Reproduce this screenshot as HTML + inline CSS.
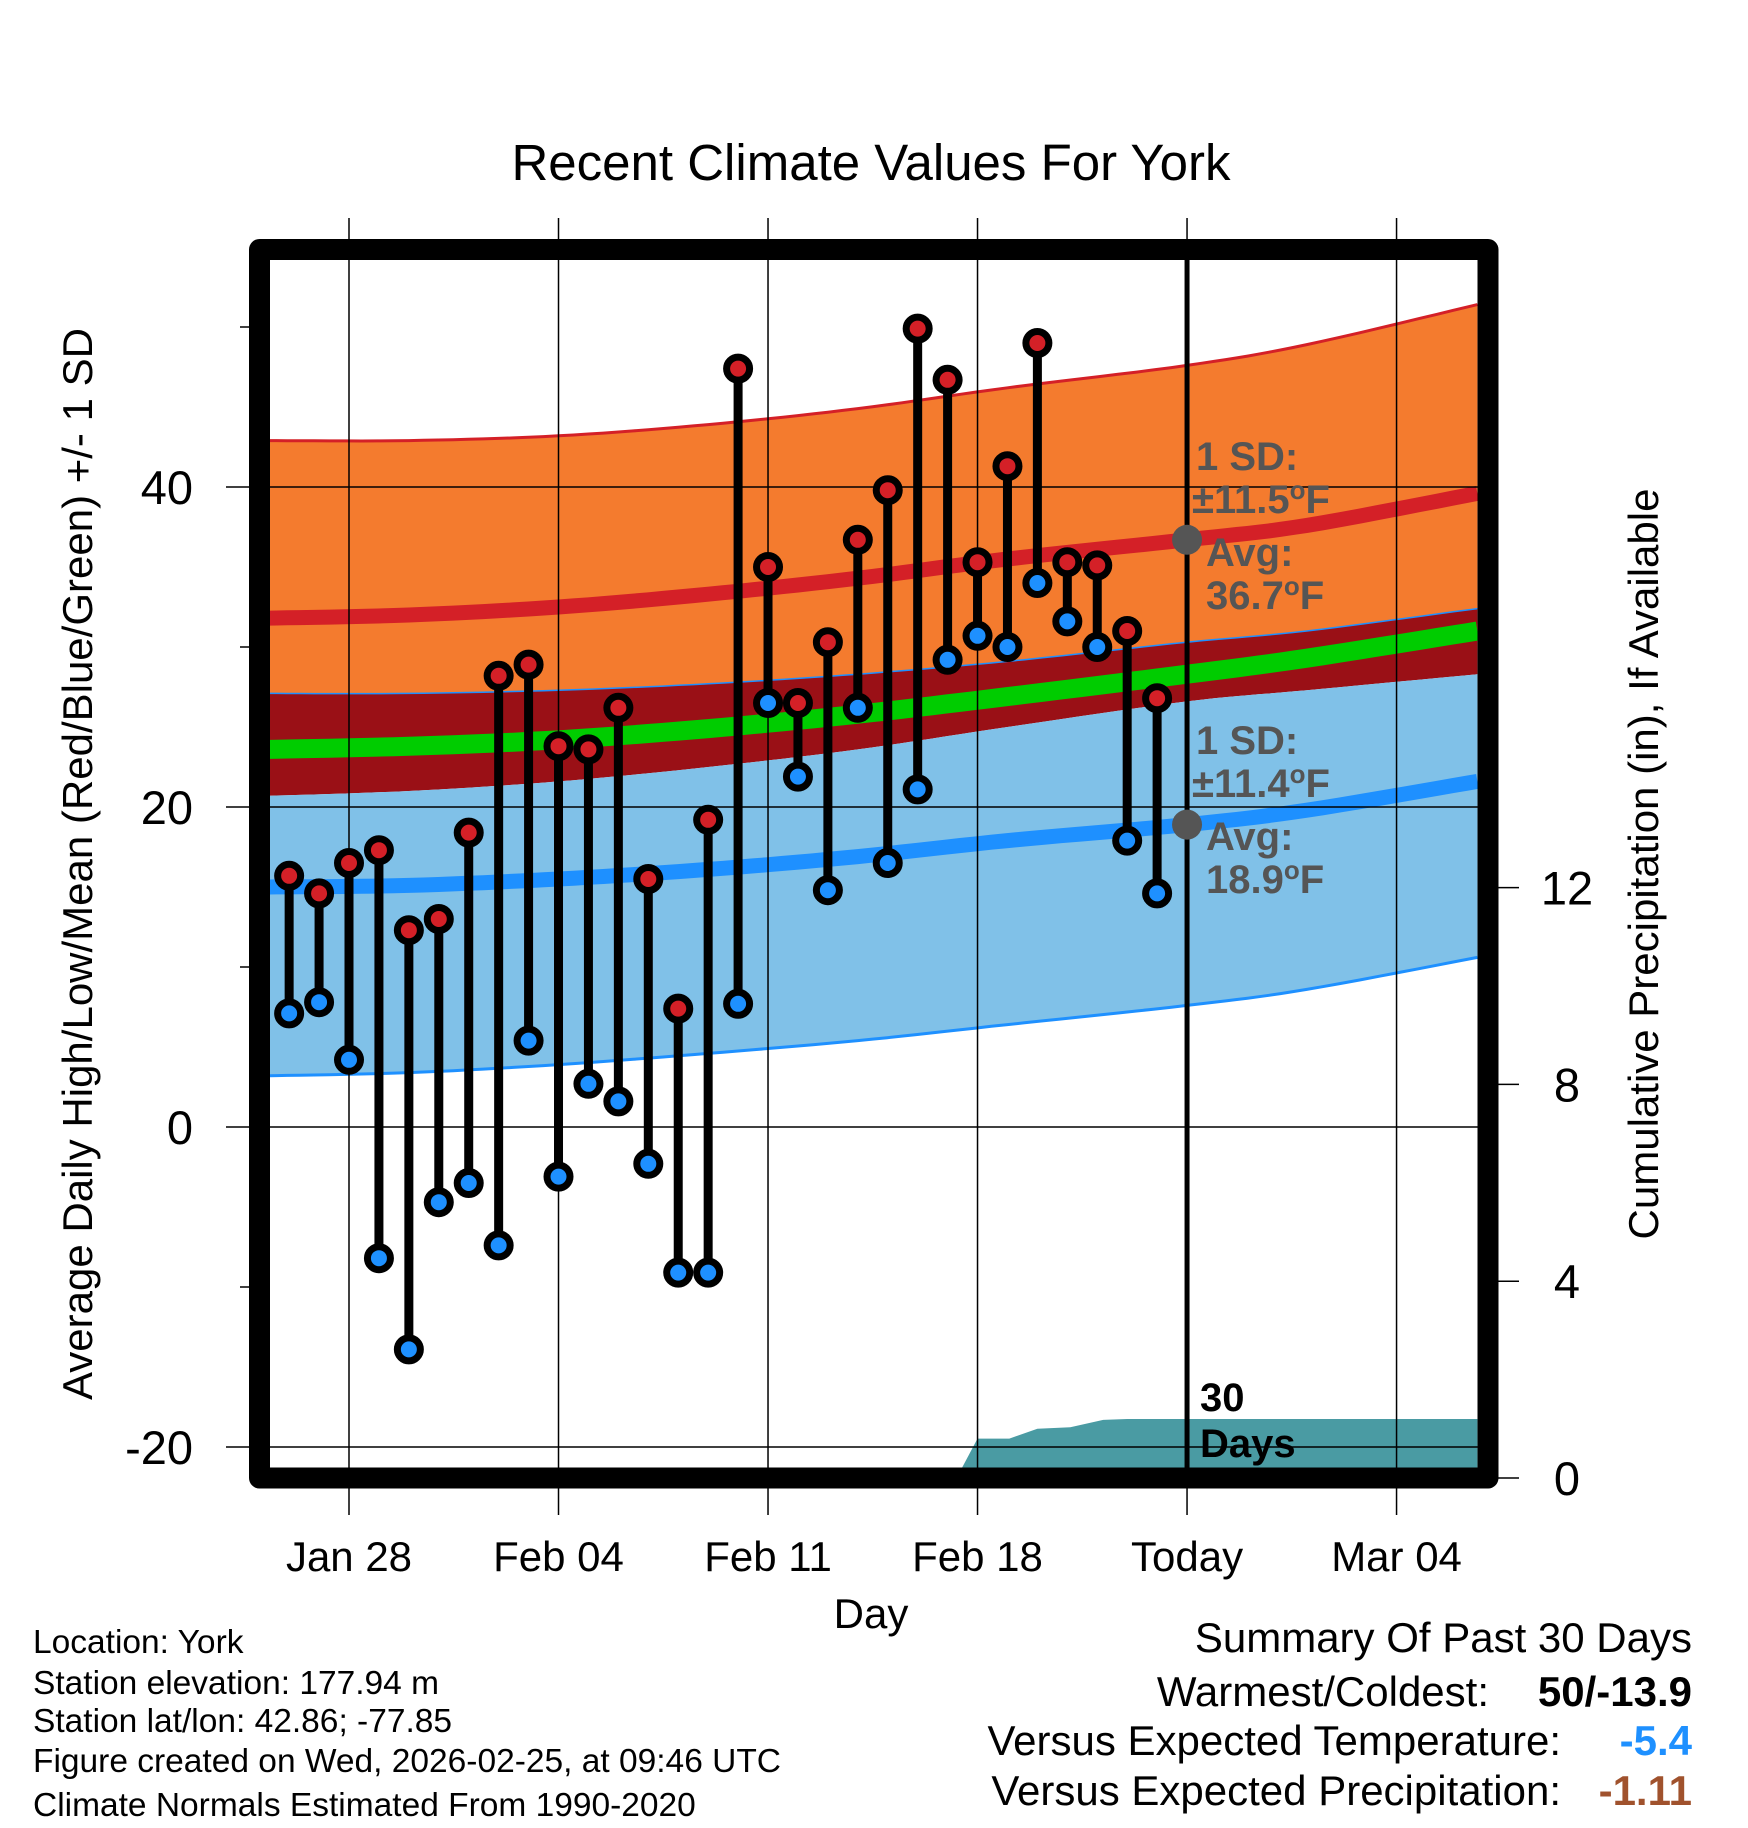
<!DOCTYPE html>
<html><head><meta charset="utf-8">
<style>
html,body{margin:0;padding:0;background:#fff;}
svg{display:block;font-family:"Liberation Sans",Arial,sans-serif;}
</style></head>
<body>
<svg id="chart" width="1748" height="1828" viewBox="0 0 1748 1828" xmlns="http://www.w3.org/2000/svg">
<text x="871" y="180" font-size="51" text-anchor="middle">Recent Climate Values For York</text>
<g id="plot"></g>
<text transform="translate(92,864) rotate(-90)" font-size="42" text-anchor="middle">Average Daily High/Low/Mean (Red/Blue/Green) +/- 1 SD</text>
<text transform="translate(1658,864) rotate(-90)" font-size="42" text-anchor="middle">Cumulative Precipitation (in), If Available</text>
<text x="871" y="1628" font-size="42" text-anchor="middle">Day</text>
<g font-size="33.5">
<text x="33" y="1653">Location: York</text>
<text x="33" y="1694">Station elevation: 177.94 m</text>
<text x="33" y="1732">Station lat/lon: 42.86; -77.85</text>
<text x="33" y="1772">Figure created on Wed, 2026-02-25, at 09:46 UTC</text>
<text x="33" y="1816">Climate Normals Estimated From 1990-2020</text>
</g>
<g font-size="42">
<text x="1692" y="1652" text-anchor="end">Summary Of Past 30 Days</text>
<text x="1489" y="1706" text-anchor="end">Warmest/Coldest:</text>
<text x="1692" y="1706" text-anchor="end" font-weight="bold">50/-13.9</text>
<text x="1561" y="1755" text-anchor="end">Versus Expected Temperature:</text>
<text x="1692" y="1755" text-anchor="end" font-weight="bold" fill="#1e90ff">-5.4</text>
<text x="1561" y="1805" text-anchor="end">Versus Expected Precipitation:</text>
<text x="1692" y="1805" text-anchor="end" font-weight="bold" fill="#a0522d">-1.11</text>
</g>
</svg>
<script>
const days = [-2,-1,0,1,2,3,4,5,6,7,8,9,10,11,12,13,14,15,16,17,18,19,20,21,22,23,24,25,26,27];
const highs = [15.7,14.6,16.5,17.3,12.3,13.0,18.4,28.2,28.9,23.8,23.6,26.2,15.5,7.4,19.2,47.4,35.0,26.5,30.3,36.7,39.8,49.9,46.7,35.3,41.3,49.0,35.3,35.1,31.0,26.8];
const lows = [7.1,7.8,4.2,-8.2,-13.9,-4.7,-3.5,-7.4,5.4,-3.1,2.7,1.6,-2.3,-9.1,-9.1,7.7,26.5,21.9,14.8,26.2,16.5,21.1,29.2,30.7,30.0,34.0,31.6,30.0,17.9,14.6];
const normDays = [-2.7,2,7,12,17,22,28,32,37.7];
const normHighUpper = [42.9,42.9,43.2,43.9,44.9,46.2,47.6,48.9,51.4];
const normHigh = [31.8,32.0,32.5,33.3,34.3,35.5,36.7,37.6,39.6];
const normHighLower = [27.1,27.1,27.3,27.7,28.3,29.1,30.3,31.0,32.4];
const normMean = [23.6,23.8,24.2,24.9,25.8,26.9,28.3,29.3,31.0];
const normLowUpper = [20.7,21.0,21.6,22.5,23.6,25.0,26.6,27.3,28.3];
const normLow = [15.0,15.1,15.5,16.1,16.9,17.9,18.9,19.8,21.6];
const normLowLower = [3.2,3.4,3.9,4.6,5.4,6.4,7.6,8.6,10.6];
const precipDays = [20.3,21,22.06,23,24.1,25.2,26,28,37.7];
const precipVals = [0,0.8,0.8,1.0,1.03,1.18,1.2,1.2,1.2];
const xTickDays = [0,7,14,21,28,35];
const xTickLabels = ["Jan 28","Feb 04","Feb 11","Feb 18","Today","Mar 04"];
const yTicks = [-20,0,20,40];
const yMinor = [-10,10,30,50];
const y2Ticks = [0,4,8,12];

const NS="http://www.w3.org/2000/svg";
const X0=270,X1=1478,Y0=260,Y1=1468;
const x = d => 349 + d*29.93;
const y = v => 1127 - 16*v;
const yp = p => 1478 - 49.2*p;
const g = document.getElementById('plot');
function mk(tag, attrs, parent){const e=document.createElementNS(NS,tag);for(const k in attrs)e.setAttribute(k,attrs[k]);(parent||g).appendChild(e);return e;}
// smooth sampling (Catmull-Rom) of a normal series, for drawing only
function smooth(arr){
  const P=normDays.map((d,i)=>[x(d),y(arr[i])]);const out=[];
  for(let i=0;i<P.length-1;i++){
    const p0=P[Math.max(0,i-1)],p1=P[i],p2=P[i+1],p3=P[Math.min(P.length-1,i+2)];
    for(let k=0;k<10;k++){const t=k/10,t2=t*t,t3=t2*t;
      out.push([0,1].map(j=>0.5*((2*p1[j])+(-p0[j]+p2[j])*t+(2*p0[j]-5*p1[j]+4*p2[j]-p3[j])*t2+(-p0[j]+3*p1[j]-3*p2[j]+p3[j])*t3)));}
  }
  out.push(P[P.length-1]);return out;
}
function ptsStr(p){return p.map(q=>q[0].toFixed(1)+','+q[1].toFixed(1)).join(' ');}
function band(top,bot){return ptsStr(smooth(top).concat(smooth(bot).reverse()));}

const clip = mk('clipPath',{id:'pc'}); mk('rect',{x:X0,y:Y0,width:X1-X0,height:Y1-Y0},clip);
const pg = mk('g',{'clip-path':'url(#pc)'});

let e;
e=mk('polygon',{points:band(normHighUpper,normHighLower),fill:'#f47b2e'},pg);


e=mk('polygon',{points:band(normHighLower,normLowUpper),fill:'#9a1016'},pg);


e=mk('polygon',{points:band(normLowUpper,normLowLower),fill:'#80c1e8'},pg);


e=mk('polyline',{points:ptsStr(smooth(normHighUpper)),fill:'none',stroke:'#d42027','stroke-width':3},pg);


e=mk('polyline',{points:ptsStr(smooth(normHighLower)),fill:'none',stroke:'#1e90ff','stroke-width':1.5},pg);


e=mk('polyline',{points:ptsStr(smooth(normLowLower)),fill:'none',stroke:'#1e90ff','stroke-width':3},pg);


e=mk('polyline',{points:ptsStr(smooth(normMean)),fill:'none',stroke:'#00cc00','stroke-width':19},pg);


e=mk('polyline',{points:ptsStr(smooth(normHigh)),fill:'none',stroke:'#d42027','stroke-width':15},pg);


e=mk('polyline',{points:ptsStr(smooth(normLow)),fill:'none',stroke:'#1e90ff','stroke-width':15},pg);



// gridlines
yTicks.forEach(v=>{
  e=mk('line',{x1:X0,x2:X1,y1:y(v),y2:y(v),stroke:'#000','stroke-width':1.5});
  
  
});
xTickDays.forEach((d,i)=>{
  e=mk('line',{x1:x(d),x2:x(d),y1:218,y2:1515,stroke:'#000','stroke-width':1.5});
  
  
  e=mk('text',{x:x(d),y:1571,'font-size':42,'text-anchor':'middle'});
  e.textContent=xTickLabels[i];
  
  
});

// precip area (over gridlines)
const pp = precipDays.map((d,i)=>[x(d),yp(precipVals[i])]);
pp.push([x(precipDays[precipDays.length-1]),Y1+20]); pp.push([x(precipDays[0]),Y1+20]);
e=mk('polygon',{points:ptsStr(pp),fill:'#4a9ba3'},pg);



// today line inside frame
e=mk('line',{x1:x(28),x2:x(28),y1:Y0,y2:Y1,stroke:'#000','stroke-width':5});



// stems and markers
days.forEach((d,i)=>{
  e=mk('line',{x1:x(d),x2:x(d),y1:y(highs[i]),y2:y(lows[i]),stroke:'#000','stroke-width':9});
  
  
});
days.forEach((d,i)=>{
  e=mk('circle',{cx:x(d),cy:y(highs[i]),r:11.5,fill:'#d42027',stroke:'#000','stroke-width':7});
  
  
  e=mk('circle',{cx:x(d),cy:y(lows[i]),r:11.5,fill:'#1e90ff',stroke:'#000','stroke-width':7});
  
  
});

// annotations
const tx=x(28);
function ann(t,xx,yy,fill){const a=mk('text',{x:xx,y:yy,'font-size':40,'font-weight':'bold',fill:fill||'#555'});a.innerHTML=t;return a;}
const deg='<tspan font-size="26" dy="-14">o</tspan><tspan dy="14">F</tspan>';
e=mk('circle',{cx:tx,cy:y(36.7),r:15,fill:'#555'});


e=mk('circle',{cx:tx,cy:y(18.9),r:15,fill:'#555'});


e=ann('1 SD:',1196,470);  
e=ann('±11.5'+deg,1192,513);  
e=ann('Avg:',1206,566);  
e=ann('36.7'+deg,1206,609);  
e=ann('1 SD:',1196,754);  
e=ann('±11.4'+deg,1192,797);  
e=ann('Avg:',1206,850);  
e=ann('18.9'+deg,1206,893);  
e=ann('30',1200,1411,'#000');  
e=ann('Days',1200,1457,'#000');  

// frame
e=mk('rect',{x:259.5,y:249.5,width:1228.5,height:1228.5,fill:'none',stroke:'#000','stroke-width':21,'stroke-linejoin':'round'});



// y ticks
yTicks.forEach(v=>{
  e=mk('line',{x1:226,x2:249,y1:y(v),y2:y(v),stroke:'#000','stroke-width':1.5});
  
  
  e=mk('text',{x:193,y:y(v)+17,'font-size':47,'text-anchor':'end'});
  e.textContent=String(v);
  
  
});
yMinor.forEach(v=>{
  e=mk('line',{x1:240,x2:249,y1:y(v),y2:y(v),stroke:'#000','stroke-width':1.5});
  
  
});
y2Ticks.forEach(v=>{
  e=mk('line',{x1:1498,x2:1519,y1:yp(v),y2:yp(v),stroke:'#000','stroke-width':1.5});
  
  
  e=mk('text',{x:1567,y:yp(v)+17,'font-size':47,'text-anchor':'middle'});
  e.textContent=String(v);
  
  
});
</script>
</body></html>
